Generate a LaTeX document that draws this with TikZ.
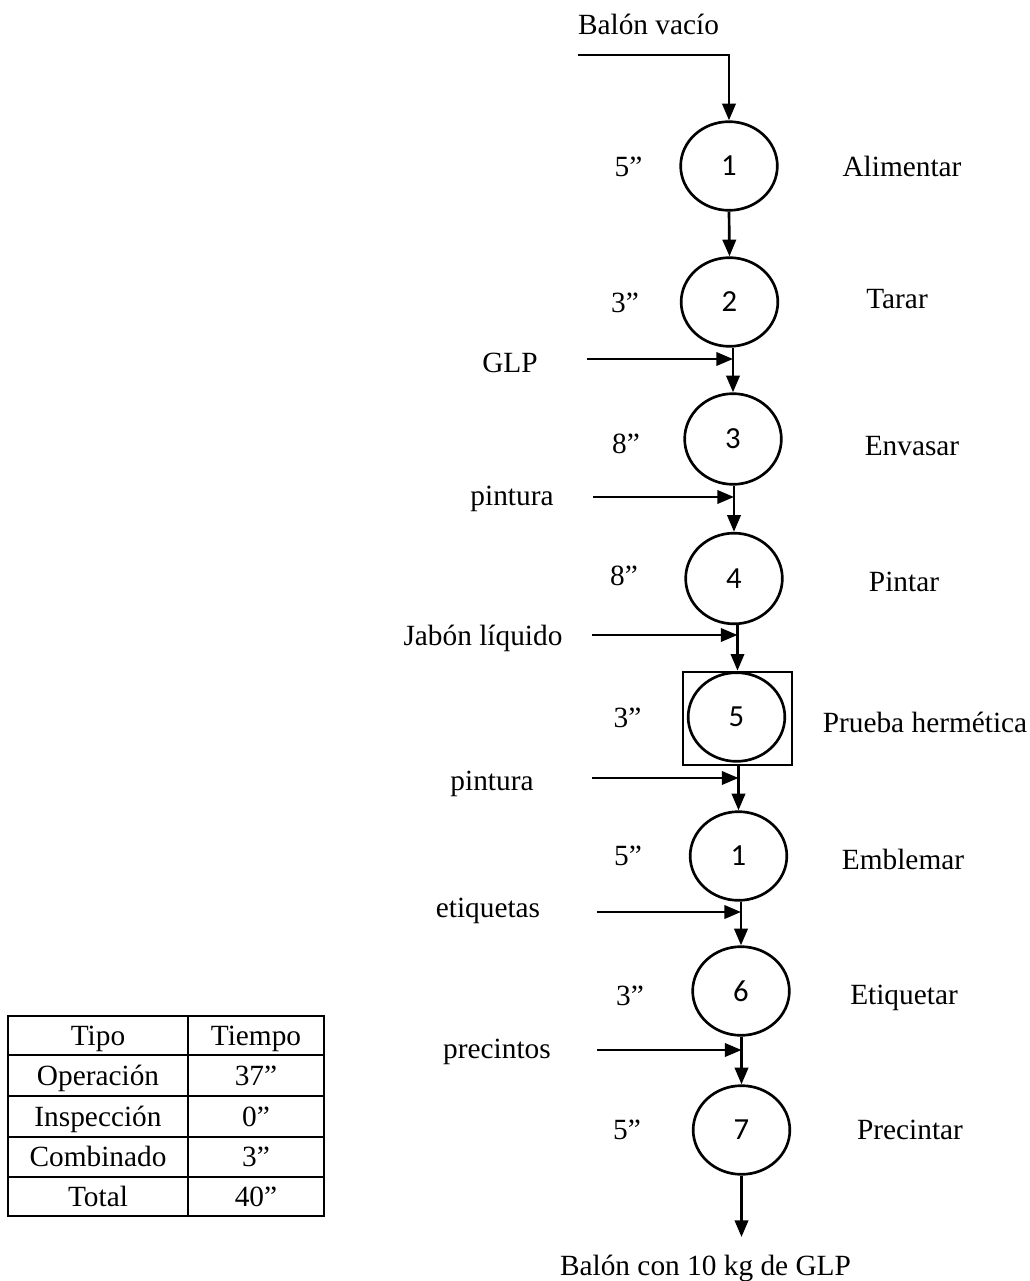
\documentclass[tikz,border=0pt]{standalone}
\usepackage{fontspec}
\setmainfont{Liberation Serif}
\newfontfamily\numfont{Carlito}
\usetikzlibrary{shapes.geometric,arrows.meta}
\begin{document}
\begin{tikzpicture}[x=0.75pt,y=-0.75pt,
  op/.style={ellipse,draw,line width=2pt,minimum width=72.5pt,minimum height=66.5pt,
             inner sep=0pt,font=\numfont\fontsize{23}{27}\selectfont},
  combo/.style={draw,line width=2pt,minimum width=81.75pt,minimum height=69.75pt,inner sep=0pt},
  flow/.style={line width=2pt,-{Triangle[length=12.5pt,width=10pt]}},
  grid/.style={line width=1.8pt},
  lbl/.style={anchor=base,inner sep=0pt,font=\fontsize{22}{26}\selectfont},
]
\useasboundingbox (0,0) rectangle (1030,1281);

% process steps
\node[op] (c1) at (729,166) {1};
\node[op] (c2) at (729.5,302) {2};
\node[op,minimum height=68pt] (c3) at (733,439) {3};
\node[op,minimum height=68pt] (c4) at (734,578.5) {4};
\node[combo] (box5) at (737.5,718.5) {};
\node[op] (c5) at (736.5,717) {5};
\node[op] (c8) at (738.5,856) {1};
\node[op] (c6) at (741,991) {6};
\node[op] (c7) at (741.5,1130) {7};

% main flow
\node[lbl] (tin) at (648.5,35) {Balón vacío};
\coordinate (s0) at (578,55);
\draw[flow] (s0) -- (s0 -| c1.north) -- (c1.north);
\draw[flow] (c1.south) -- (c2.north);
\draw[flow] (c2.south -| c3.north) -- (c3.north);
\draw[flow] (c3.south -| c4.north) -- (c4.north);
\draw[flow] (c4.south -| box5.north) -- (box5.north);
\draw[flow] (box5.south -| c8.north) -- (c8.north);
\draw[flow] (c8.south -| c6.north) -- (c6.north);
\draw[flow] (c6.south -| c7.north) -- (c7.north);
\coordinate (fin) at (741.5,1237);
\draw[flow] (c7.south) -- (fin);
\node[lbl] (tout) at (705.5,1275) {Balón con 10 kg de GLP};

% material inputs
\coordinate (i3) at (587,359);
\coordinate (i4) at (593,497);
\coordinate (i5) at (592,635);
\coordinate (i8) at (592,778);
\coordinate (i6) at (597,912);
\coordinate (i7) at (597,1050);
\draw[flow] (i3) -- (i3 -| c3.north);
\draw[flow] (i4) -- (i4 -| c4.north);
\draw[flow] (i5) -- (i5 -| box5.north);
\draw[flow] (i8) -- (i8 -| c8.north);
\draw[flow] (i6) -- (i6 -| c6.north);
\draw[flow] (i7) -- (i7 -| c7.north);
\node[lbl] (m3) at (510,372) {GLP};
\node[lbl] (m4) at (512,505) {pintura};
\node[lbl] (m5) at (483,645) {Jabón líquido};
\node[lbl] (m8) at (492,790) {pintura};
\node[lbl] (m6) at (488,917) {etiquetas};
\node[lbl] (m7) at (497,1058) {precintos};

% times
\node[lbl] (t1) at (628.5,176) {5”};
\node[lbl] (t2) at (625,312) {3”};
\node[lbl] (t3) at (626,453) {8”};
\node[lbl] (t4) at (624,585) {8”};
\node[lbl] (t5) at (627.5,727) {3”};
\node[lbl] (t8) at (628,865) {5”};
\node[lbl] (t6) at (630,1005) {3”};
\node[lbl] (t7) at (627,1139) {5”};

% step names
\node[lbl] (n1) at (902,176) {Alimentar};
\node[lbl] (n2) at (897,308) {Tarar};
\node[lbl] (n3) at (912,455) {Envasar};
\node[lbl] (n4) at (904,591) {Pintar};
\node[lbl] (n5) at (925,732) {Prueba hermética};
\node[lbl] (n8) at (903,869) {Emblemar};
\node[lbl] (n6) at (904,1004) {Etiquetar};
\node[lbl] (n7) at (910,1139) {Precintar};

% summary table
\draw[grid] (8,1016) rectangle (324,1216);
\foreach \yy in {1055,1096,1137,1177} \draw[grid] (8,\yy) -- (324,\yy);
\draw[grid] (188,1016) -- (188,1216);
\node[lbl] (h1) at (98,1045) {Tipo};
\node[lbl] (h2) at (256,1045) {Tiempo};
\node[lbl] (r1a) at (98,1085) {Operación};
\node[lbl] (r1b) at (256,1085) {37”};
\node[lbl] (r2a) at (98,1126) {Inspección};
\node[lbl] (r2b) at (256,1126) {0”};
\node[lbl] (r3a) at (98,1166.5) {Combinado};
\node[lbl] (r3b) at (256,1166.5) {3”};
\node[lbl] (r4a) at (98,1206) {Total};
\node[lbl] (r4b) at (256,1206) {40”};
\end{tikzpicture}
\end{document}
